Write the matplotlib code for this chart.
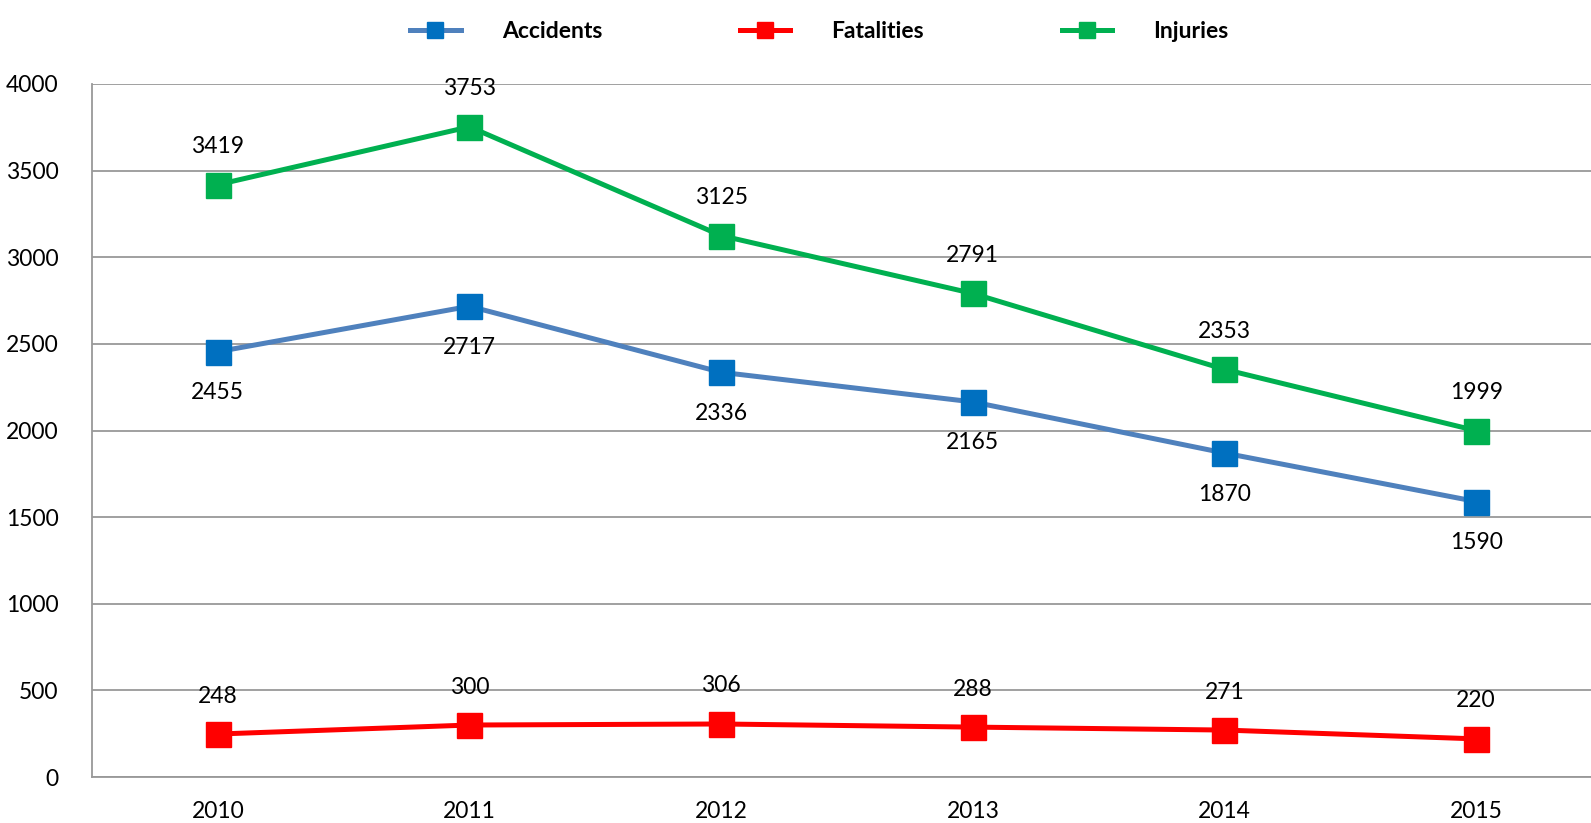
import matplotlib

matplotlib.use("Agg")
import matplotlib.pyplot as plt

years = ["2010", "2011", "2012", "2013", "2014", "2015"]
accidents = [2455, 2717, 2336, 2165, 1870, 1590]
fatalities = [248, 300, 306, 288, 271, 220]
injuries = [3419, 3753, 3125, 2791, 2353, 1999]

plt.rcParams["font.family"] = ["Lato", "DejaVu Sans"]

W, H = 1591, 823
fig = plt.figure(figsize=(W / 100, H / 100), dpi=100)
ax = fig.add_axes([92 / W, 1 - 777 / H, 1510 / W, (777 - 84) / H])

x = list(range(len(years)))
series = [
    ("Accidents", accidents, "#4F81BD", "#0070C0", -41),
    ("Fatalities", fatalities, "#FF0000", "#FF0000", 38),
    ("Injuries", injuries, "#00B050", "#00B050", 38),
]
for name, vals, lc, mc, dy in series:
    ax.plot(x, vals, color=lc, linewidth=3.6, marker="s", markersize=18,
            markerfacecolor=mc, markeredgecolor=mc, label=name, zorder=3)
    for xi, v in zip(x, vals):
        ax.annotate(str(v), xy=(xi, v), xytext=(0, dy * 0.72),
                    textcoords="offset points", ha="center", va="center",
                    fontsize=16.5, color="black")

ax.set_xlim(-0.5, 5.5)
ax.set_ylim(0, 4000)
ax.set_yticks(range(0, 4001, 500))
ax.set_xticks(x)
ax.set_xticklabels(years)
ax.grid(axis="y", color="#999999", linewidth=1.3)
ax.set_axisbelow(True)
for s in ("top", "right"):
    ax.spines[s].set_visible(False)
for s in ("left", "bottom"):
    ax.spines[s].set_color("#999999")
    ax.spines[s].set_linewidth(1.3)
ax.tick_params(length=0, labelsize=16.5, pad=17)
ax.tick_params(axis="y", pad=24)

leg = fig.legend(loc="upper center", bbox_to_anchor=(0.515, 1.0), ncol=3,
                 frameon=False, handlelength=2.2, columnspacing=6.0,
                 handletextpad=1.8, prop={"weight": "bold", "size": 16.5})
for h in leg.legend_handles:
    h.set_markersize(12)

fig.savefig("out.png", dpi=100, facecolor="white")
